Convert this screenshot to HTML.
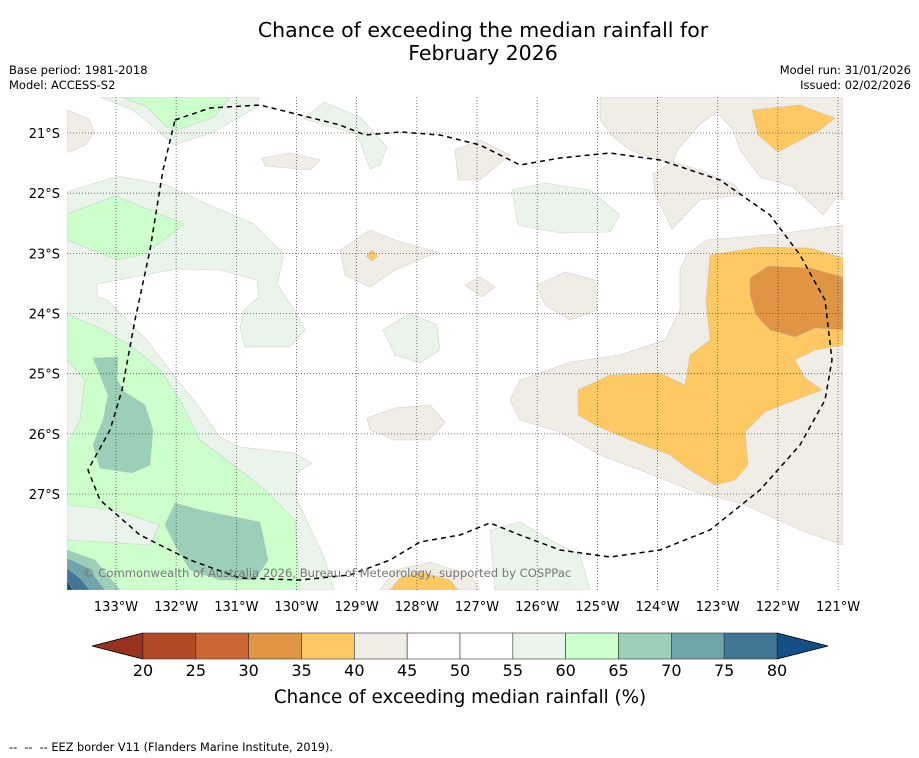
<!DOCTYPE html>
<html><head><meta charset="utf-8"><style>
body{margin:0;background:#fff;font-family:"DejaVu Sans","Liberation Sans",sans-serif;}
#wrap{position:relative;width:919px;height:758px;overflow:hidden;}
.t{position:absolute;white-space:nowrap;}
text{font-family:"DejaVu Sans","Liberation Sans",sans-serif;}
</style></head><body>
<div id="wrap">
<div class="t" style="left:0;width:966px;top:19px;text-align:center;font-size:20.5px;line-height:23px;">Chance of exceeding the median rainfall for<br>February 2026</div>
<div class="t" style="left:9px;top:63px;font-size:11.5px;line-height:15px;">Base period: 1981-2018<br>Model: ACCESS-S2</div>
<div class="t" style="right:8px;top:63px;font-size:11.5px;line-height:15px;text-align:right;">Model run: 31/01/2026<br>Issued: 02/02/2026</div>
<svg id="map" width="919" height="758" style="position:absolute;left:0;top:0">
<defs><clipPath id="clip"><rect x="67" y="97" width="776" height="493"/></clipPath></defs>
<g clip-path="url(#clip)" stroke="#bbb" stroke-width="0.6" stroke-opacity="0.6">
<path fill="#eaf4ea" d="M67,192 L117,176 L167,185 L207,204 L254,224 L284,254 L277,284 L297,314 L305,330 L290,347 L245,347 L240,327 L244,310 L259,297 L257,280 L220,270 L177,269 L134,277 L97,284 L97,297 L107,300 L147,340 L177,380 L194,400 L220,437 L240,447 L294,453 L312,463 L297,473 L297,500 L324,557 L334,590 L67,590 Z"/>
<path fill="#eaf4ea" d="M100,97 L259,97 L257,107 L214,132 L174,145 L157,130 L133,110 Z"/>
<path fill="#eaf4ea" d="M383,330 L410,313 L437,325 L440,350 L420,363 L395,355 Z"/>
<path fill="#eaf4ea" d="M304,119 L324,102 L360,117 L387,147 L380,165 L370,169 L357,134 Z"/>
<path fill="#eaf4ea" d="M512,190 L545,183 L590,190 L620,215 L610,232 L560,233 L518,225 Z"/>
<path fill="#eaf4ea" d="M490,530 L520,522 L550,540 L580,555 L590,590 L495,590 Z"/>
<path fill="#ccffcc" d="M67,314 L100,328 L130,345 L160,370 L180,400 L200,440 L240,470 L265,490 L295,520 L300,590 L67,590 L67,540 L150,545 L160,525 L115,510 L67,505 L67,445 L80,420 L85,380 L67,360 Z"/>
<path fill="#ccffcc" d="M67,214 L115,196 L185,224 L145,254 L117,260 L67,240 Z"/>
<path fill="#ccffcc" d="M122,97 L230,97 L214,117 L177,130 L167,127 L147,107 Z"/>
<path fill="#9ccfb8" d="M93,358 L118,357 L117,380 L125,392 L145,405 L153,430 L150,465 L132,473 L100,468 L93,445 L103,420 L108,395 Z"/>
<path fill="#9ccfb8" d="M175,503 L200,510 L260,522 L268,560 L255,580 L220,580 L190,570 L175,545 L165,525 Z"/>
<path fill="#9ccfb8" d="M67,550 L95,560 L120,590 L67,590 Z"/>
<path fill="#6fa5a8" d="M67,558 L88,568 L105,590 L67,590 Z"/>
<path fill="#417694" d="M67,568 L80,578 L90,590 L67,590 Z"/>
<path fill="#134e85" d="M67,580 L73,590 L67,590 Z"/>
<path fill="#f0ece6" d="M600,97 L843,97 L843,200 L837,197 L823,215 L793,187 L760,177 L740,150 L733,130 L717,112 L700,124 L678,149 L673,162 L700,170 L735,185 L742,195 L700,200 L672,229 L655,194 L653,174 L673,162 L657,160 L630,150 L610,134 L600,119 Z"/>
<path fill="#f0ece6" d="M687,254 L707,240 L777,234 L843,225 L843,545 L800,530 L745,505 L690,490 L640,470 L600,455 L560,432 L520,420 L510,400 L520,380 L570,362 L620,355 L665,340 L680,310 L680,270 Z"/>
<path fill="#f0ece6" d="M340,250 L370,230 L395,240 L438,252 L395,270 L370,287 L345,275 Z"/>
<path fill="#f0ece6" d="M367,418 L395,408 L430,405 L445,422 L430,440 L395,440 L370,430 Z"/>
<path fill="#f0ece6" d="M537,285 L565,272 L595,280 L597,310 L570,320 L545,305 Z"/>
<path fill="#f0ece6" d="M455,150 L480,140 L510,155 L480,180 L458,180 Z"/>
<path fill="#f0ece6" d="M262,158 L290,153 L320,160 L310,170 L265,166 Z"/>
<path fill="#f0ece6" d="M465,285 L480,277 L495,287 L482,297 Z"/>
<path fill="#f0ece6" d="M67,110 L89,119 L94,132 L87,144 L70,152 L67,152 Z"/>
<path fill="#f0ece6" d="M380,590 L395,570 L430,562 L470,575 L480,590 Z"/>
<path fill="#fec962" d="M710,255 L760,247 L810,248 L843,258 L843,345 L815,350 L795,360 L805,378 L822,390 L790,402 L765,412 L745,432 L748,465 L735,480 L715,485 L690,470 L670,455 L630,440 L595,425 L578,415 L578,390 L610,375 L660,373 L685,385 L690,355 L710,340 L706,300 Z"/>
<path fill="#e09545" d="M750,278 L768,266 L810,268 L843,277 L843,330 L815,328 L795,337 L770,330 L756,315 L750,295 Z"/>
<path fill="#fec962" d="M752,110 L800,105 L835,118 L820,130 L778,152 L758,135 Z"/>
<path fill="#fec962" d="M390,590 L400,578 L420,572 L450,580 L458,590 Z"/>
<path fill="#fec962" d="M366,256 L372,250 L378,256 L372,261 Z"/>
</g>
<g id="grid"></g>
<path fill="none" stroke="#000" stroke-width="1.5" stroke-dasharray="5,4" clip-path="url(#clip)" d="M175,120 L210,108 L260,105 L300,115 L340,125 L365,135 L400,132 L440,135 L480,145 L520,165 L560,158 L610,153 L660,160 L720,180 L770,215 L800,255 L825,300 L832,360 L825,400 L800,445 L760,490 L710,530 L660,550 L610,557 L560,550 L520,535 L490,523 L460,535 L420,542 L390,560 L350,575 L300,580 L240,578 L190,560 L140,535 L100,500 L88,470 L110,430 L122,390 L135,320 L150,250 L163,170 Z"/>
<text x="83" y="577" font-size="11.6" fill="#777">© Commonwealth of Australia 2026, Bureau of Meteorology, supported by COSPPac</text>
<g id="axes" font-size="13"></g>
<g id="cbar"></g>
<text x="460" y="703" text-anchor="middle" font-size="18.3">Chance of exceeding median rainfall (%)</text>
<text x="9" y="751" font-size="11.3" style="white-space:pre" xml:space="preserve">--  --  -- EEZ border V11 (Flanders Marine Institute, 2019).</text>
</svg>
</div>
<script>
const lonTicks=[133,132,131,130,129,128,127,126,125,124,123,122,121];
const latTicks=[21,22,23,24,25,26,27];
const cbLevels=[20,25,30,35,40,45,50,55,60,65,70,75,80];
const cbColors=["#b34a27","#cc6633","#e09545","#fec962","#f0ece6","#ffffff","#ffffff","#eaf4ea","#ccffcc","#9ccfb8","#6fa5a8","#417694"];
const NS="http://www.w3.org/2000/svg";
function xLon(l){return 116+(133-l)*60.17;}
function yLat(l){return 133+(l-21)*60.17;}
function xCb(v){return 143+(v-20)*(634/60);}
function mk(tag,attrs,parent){const e=document.createElementNS(NS,tag);for(const k in attrs)e.setAttribute(k,attrs[k]);parent.appendChild(e);return e;}
const grid=document.getElementById('grid'),axes=document.getElementById('axes'),cb=document.getElementById('cbar');
lonTicks.forEach(l=>{const x=xLon(l);
 const ln=mk('line',{x1:x,x2:x,y1:97,y2:590,stroke:'#555','stroke-width':0.8,'stroke-dasharray':'1,2'},grid);
 
 
 const t=mk('text',{x:x,y:611,'text-anchor':'middle'},axes);t.textContent=l+'°W';
 
 
});
latTicks.forEach(l=>{const y=yLat(l);
 const ln=mk('line',{x1:67,x2:843,y1:y,y2:y,stroke:'#555','stroke-width':0.8,'stroke-dasharray':'1,2'},grid);
 
 
 const t=mk('text',{x:60,y:y+5,'text-anchor':'end'},axes);t.textContent=l+'°S';
 
 
});
const y0=633,y1=659;
const lt=mk('path',{d:`M${xCb(20)},${y0} L92,${(y0+y1)/2} L${xCb(20)},${y1} Z`,fill:'#96321e',stroke:'#000','stroke-width':0.8},cb);


const rt=mk('path',{d:`M${xCb(80)},${y0} L828,${(y0+y1)/2} L${xCb(80)},${y1} Z`,fill:'#134e85',stroke:'#000','stroke-width':0.8},cb);


cbColors.forEach((c,i)=>{const a=xCb(cbLevels[i]),b=xCb(cbLevels[i+1]);
 const r=mk('rect',{x:a,y:y0,width:b-a,height:y1-y0,fill:c,stroke:'#333','stroke-width':0.6},cb);
 
 
});
cbLevels.forEach(v=>{const t=mk('text',{x:xCb(v),y:676,'text-anchor':'middle','font-size':16},cb);t.textContent=v;
 
 
});
</script>
</body></html>
